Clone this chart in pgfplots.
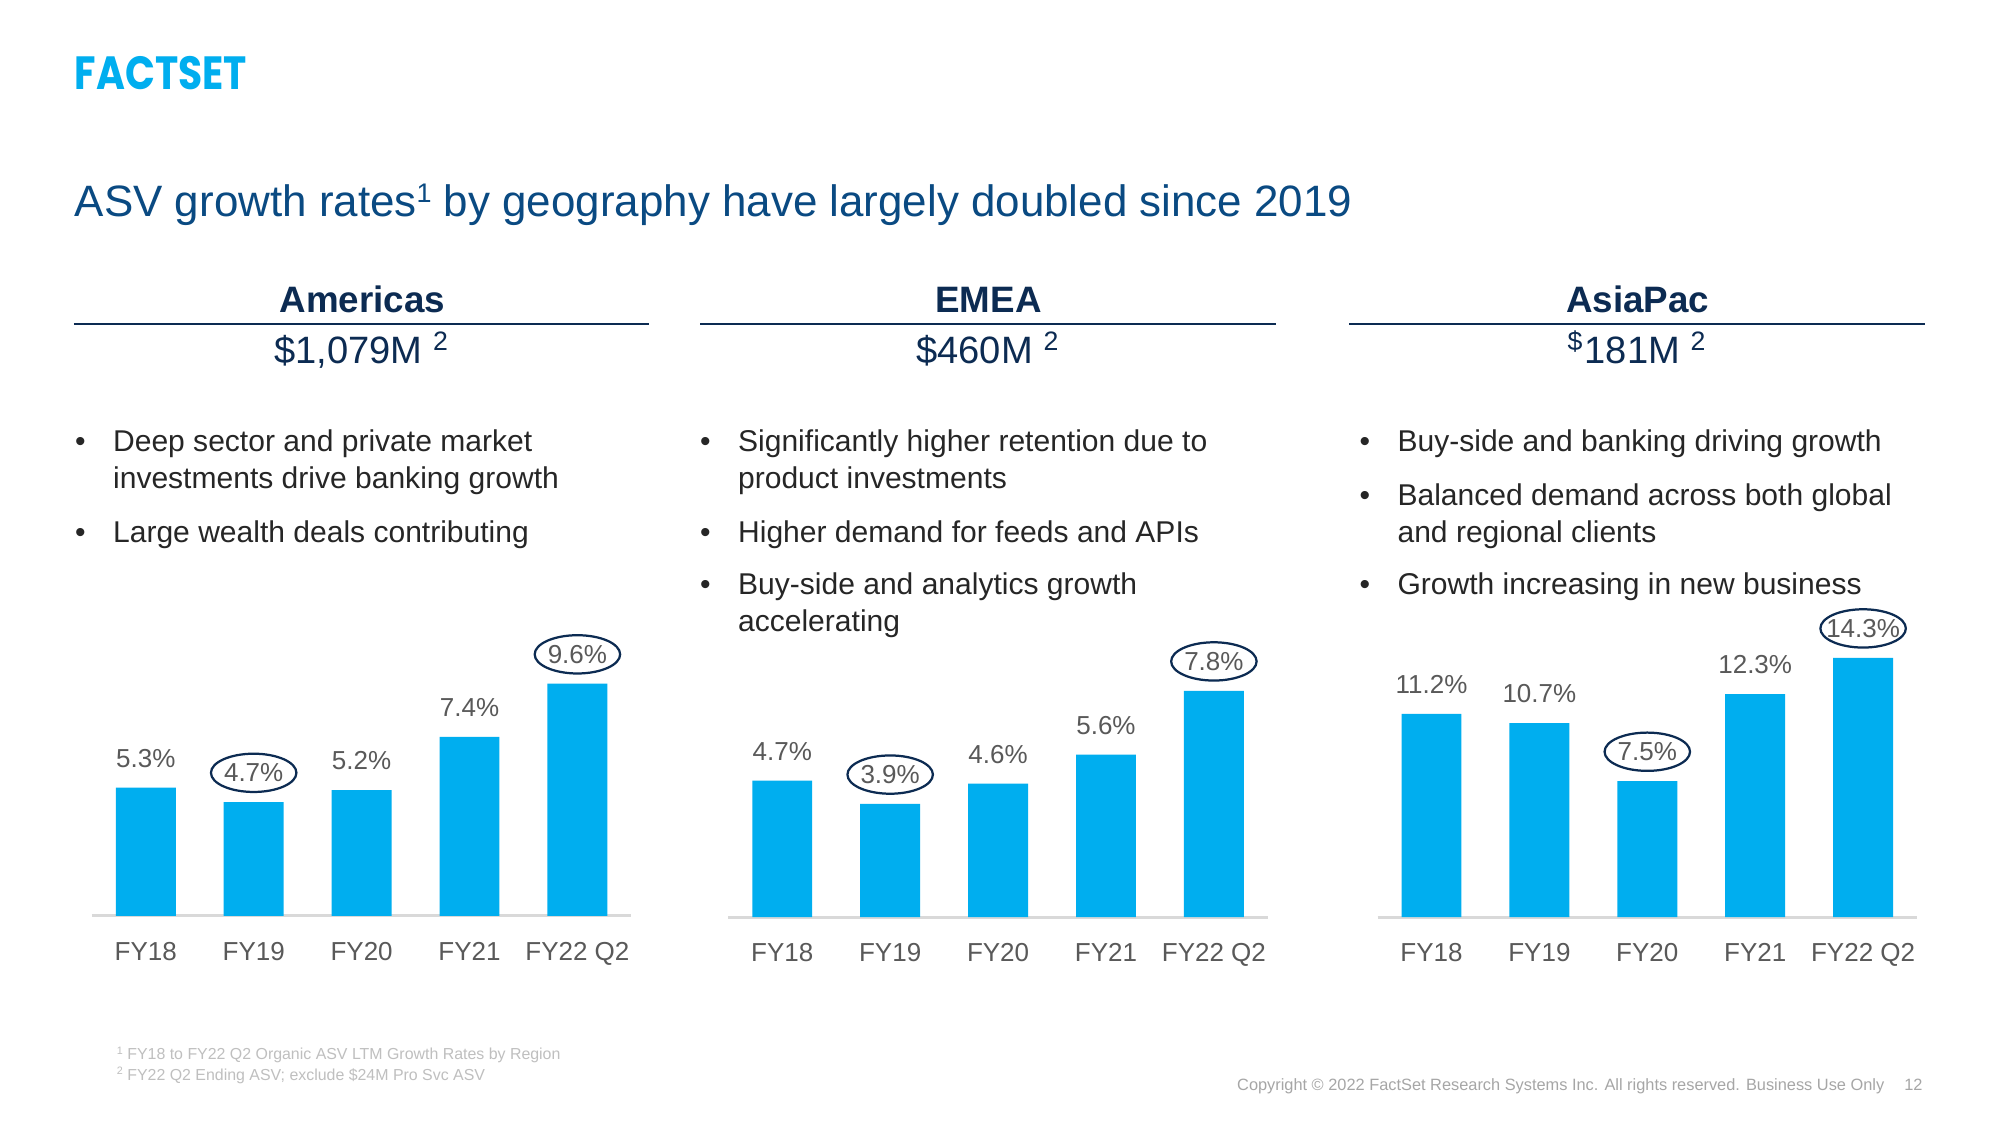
\documentclass[border=0pt]{standalone}
\usepackage{fontspec}
\setmainfont{Liberation Sans}
\newfontfamily\logofont{Poppins}
\usepackage{pgfplots}
\pgfplotsset{compat=1.18}
\usetikzlibrary{shapes.geometric}

\definecolor{fsblue}{HTML}{00AEEF}
\definecolor{titleblue}{HTML}{0A4A82}
\definecolor{navy}{HTML}{0C2B52}
\definecolor{bodytext}{HTML}{262626}
\definecolor{labgray}{HTML}{595959}
\definecolor{linegray}{HTML}{D9D9D9}
\definecolor{footgray}{HTML}{BFBFBF}
\definecolor{copygray}{HTML}{A6A6A6}

\newcommand\fs[2]{\fontsize{#1}{#2}\selectfont}

\pgfplotsset{
  region/.style={
    scale only axis, width=42.3mm, height=22.75mm, anchor=south west,
    xmin=-0.5, xmax=4.5, ymin=0,
    axis x line*=bottom, axis y line=none,
    axis line style={draw=linegray, line width=0.7pt, -},
    xtick={0,...,4}, xticklabels={FY18,FY19,FY20,FY21,FY22 Q2},
    major tick length=0pt, ytick=\empty,
    xticklabel style={font=\fs{5.8}{6}, text=labgray, anchor=base, yshift=-3.5mm, inner sep=0pt},
    clip=false,
    /pgf/number format/assume math mode=true,
  },
  bars/.style={ybar, bar width=4.7mm, fill=fsblue, draw=none,
    nodes near coords={\pgfmathprintnumber[fixed,fixed zerofill,precision=1]{\pgfplotspointmeta}\%},
    every node near coord/.append style={font=\fs{5.8}{6}, text=labgray, anchor=center, yshift=2.3mm, inner sep=0pt}},
  rings/.style={draw=none, nodes near coords={},
    every node near coord/.append style={draw=navy, line width=0.5pt, ellipse, minimum width=6.7mm, minimum height=3mm, inner sep=0pt, anchor=center, yshift=2.3mm}},
}

% bullet line: x, y (from top), text
\newcommand\bul[3]{%
  \node[anchor=base,inner sep=0,text=bodytext,font=\fs{6.7}{8}] at (#1-25,882-#2) {\textbullet};
  \node[anchor=base west,inner sep=0,text=bodytext,font=\fs{6.7}{8}] at (#1,882-#2) {#3};}
\newcommand\cont[3]{%
  \node[anchor=base west,inner sep=0,text=bodytext,font=\fs{6.7}{8}] at (#1,882-#2) {#3};}

\begin{document}
\begin{tikzpicture}[x=0.1mm,y=0.1mm]
\fill[white] (0,0) rectangle (1568,882);

% logo and title
\node[anchor=south west,inner sep=0,text=fsblue] at (58,882-71) {\resizebox{13.5mm}{2.6mm}{\logofont\bfseries FACTSET}};
\node[anchor=base west,inner sep=0,text=titleblue,font=\fs{9.8}{12}] at (58,882-170)
  {ASV growth rates{\fs{6}{6}\raisebox{3.2pt}{1}} by geography have largely doubled since 2019};

% region headers
\draw[navy, line width=0.4pt] (58,882-254) -- (509,882-254);
\draw[navy, line width=0.4pt] (549,882-254) -- (1000,882-254);
\draw[navy, line width=0.4pt] (1058,882-254) -- (1509,882-254);
\node[anchor=base,inner sep=0,text=navy,font=\fs{8.2}{10}\bfseries] at (284,882-245) {Americas};
\node[anchor=base,inner sep=0,text=navy,font=\fs{8.2}{10}\bfseries] at (775,882-245) {EMEA};
\node[anchor=base,inner sep=0,text=navy,font=\fs{8.2}{10}\bfseries] at (1284,882-245) {AsiaPac};
\node[anchor=base,inner sep=0,text=navy,font=\fs{8.5}{10}] at (284,882-285) {\$1,079M \textsuperscript{2}};
\node[anchor=base,inner sep=0,text=navy,font=\fs{8.5}{10}] at (775,882-285) {\$460M \textsuperscript{2}};
\node[anchor=base,inner sep=0,text=navy,font=\fs{8.5}{10}] at (1284,882-285) {\textsuperscript{\$}181M \textsuperscript{2}};

% bullets
\bul{88}{354}{Deep sector and private market}
\cont{88}{383}{investments drive banking growth}
\bul{88}{425}{Large wealth deals contributing}

\bul{578}{354}{Significantly higher retention due to}
\cont{578}{383}{product investments}
\bul{578}{425}{Higher demand for feeds and APIs}
\bul{578}{466}{Buy-side and analytics growth}
\cont{578}{495}{accelerating}

\bul{1095}{354}{Buy-side and banking driving growth}
\bul{1095}{396}{Balanced demand across both global}
\cont{1095}{425}{and regional clients}
\bul{1095}{466}{Growth increasing in new business}

% Americas
\begin{axis}[region, at={(7.2mm,16.4mm)}, ymax=12]
\addplot[bars] coordinates {(0,5.3) (1,4.7) (2,5.2) (3,7.4) (4,9.6)};
\addplot[rings] coordinates {(1,4.7) (4,9.6)};
\end{axis}

% EMEA
\begin{axis}[region, at={(57.1mm,16.3mm)}, ymax=10]
\addplot[bars] coordinates {(0,4.7) (1,3.9) (2,4.6) (3,5.6) (4,7.8)};
\addplot[rings] coordinates {(1,3.9) (4,7.8)};
\end{axis}

% AsiaPac
\begin{axis}[region, at={(108.0mm,16.3mm)}, ymax=16]
\addplot[bars] coordinates {(0,11.2) (1,10.7) (2,7.5) (3,12.3) (4,14.3)};
\addplot[rings] coordinates {(2,7.5) (4,14.3)};
\end{axis}

% footnotes
\node[anchor=base west,inner sep=0,text=footgray,font=\fs{3.55}{4.5}] at (91,882-831)
  {{\fs{2.4}{3}\raisebox{1.3pt}{1}} FY18 to FY22 Q2 Organic ASV LTM Growth Rates by Region};
\node[anchor=base west,inner sep=0,text=footgray,font=\fs{3.55}{4.5}] at (91,882-847)
  {{\fs{2.4}{3}\raisebox{1.3pt}{2}} FY22 Q2 Ending ASV; exclude \$24M Pro Svc ASV};
\node[anchor=base east,inner sep=0,text=copygray,font=\fs{3.65}{4.5}] at (1478,882-855)
  {Copyright © 2022 FactSet Research Systems Inc. All rights reserved. Business Use Only};
\node[anchor=base east,inner sep=0,text=copygray,font=\fs{3.65}{4.5}] at (1508,882-855) {12};
\end{tikzpicture}
\end{document}
